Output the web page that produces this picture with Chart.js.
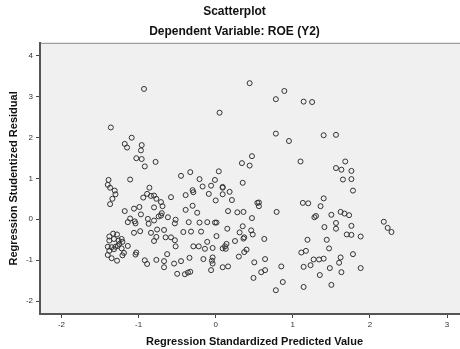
<!DOCTYPE html>
<html>
<head>
<meta charset="utf-8">
<script src="https://cdn.jsdelivr.net/npm/chart.js@4/dist/chart.umd.min.js"></script>
<style>
  html, body { margin: 0; padding: 0; overflow: hidden; background: #fff; }
  #wrap { width: 475px; height: 349px; }
</style>
</head>
<body>
<div id="wrap"><canvas id="chart" width="475" height="349"></canvas></div>
<script>
const chartTitle = 'Scatterplot';
const chartSubtitle = 'Dependent Variable: ROE (Y2)';
const xLabel = 'Regression Standardized Predicted Value';
const yLabel = 'Regression Studentized Residual';

const xTicks = [-2, -1, 0, 1, 2, 3];
const yTicks = [-2, -1, 0, 1, 2, 3, 4];

// Standardized predicted values (x) and studentized residuals (y)
const predicted = [
  -1.36, -1.39, -1.40, -1.37, -1.31, -1.30, -1.34, -1.37, -1.18, -1.18, -1.15, -1.11,
  -1.11, -1.14, -1.38, -1.33, -1.28, -1.38, -1.32, -1.26, -1.40, -1.35, -1.30, -1.27,
  -1.38, -1.32, -1.22, -1.22, -1.40, -1.35, -1.28, -1.14, -1.19, -1.21, -1.21, -1.25,
  -1.09, -0.93, -0.96, -0.97, -1.03, -0.96, -0.92, -0.78, -0.86, -0.89, -0.84, -0.80,
  -0.94, -0.77, -1.06, -0.99, -0.80, -0.97, -1.05, -1.04, -0.88, -0.87, -0.80, -0.74,
  -1.06, -0.98, -0.84, -0.76, -0.77, -0.80, -1.03, -1.04, -0.92, -0.89, -0.77, -0.71,
  -0.69, -0.70, -0.71,
  -0.58, -0.39, -0.30, -0.29, -0.45, -0.33, -0.21, -0.39, -0.30, -0.24, -0.62, -0.52,
  -0.53, -0.35, -0.67, -0.42, -0.32, -0.65, -0.58, -0.53, -0.52, -0.29, -0.22, -0.63,
  -0.67, -0.67, -0.54, -0.45, -0.34, -0.50, -0.40, -0.36, -0.33,
  0.05, 0.04, -0.01, -0.17, -0.06, 0.09, 0.09, 0.18, -0.09, 0.09, 0.21, 0.00,
  0.16, 0.28, -0.21, -0.11, -0.01, 0.01, 0.15, -0.19, 0.01, 0.25, -0.11, -0.14,
  -0.04, 0.09, 0.12, 0.14, 0.13, -0.16, -0.04, -0.05, -0.04, -0.06, 0.09, 0.16,
  0.44, 0.78, 0.89, 0.78, 0.95, 0.47, 0.34, 0.44, 0.35, 0.54, 0.56, 0.56,
  0.36, 0.79, 0.47, 0.35, 0.31, 0.46, 0.48, 0.37, 0.36, 0.63, 0.40, 0.37,
  0.30, 0.50, 0.64, 0.59, 0.64, 0.49, 0.78, 0.87, 0.85,
  1.14, 1.25, 1.10, 1.40, 1.56, 1.68, 1.56, 1.63, 1.76, 1.65, 1.76, 1.78,
  1.40, 1.36, 1.13, 1.20, 1.28, 1.30, 1.50, 1.62, 1.67, 1.73, 1.41, 1.56,
  1.56, 1.76, 1.70, 1.76, 1.88, 1.19, 1.44, 1.47, 1.11, 1.17, 1.78, 1.27,
  1.34, 1.40, 1.62, 1.60, 1.23, 1.14, 1.48, 1.63, 1.88, 1.35, 1.14, 1.50,
  2.18, 2.23, 2.28
];
const residual = [
  2.24, 0.96, 0.84, 0.77, 0.70, 0.61, 0.50, 0.37, 0.20, 1.84, 1.75, 0.97,
  0.02, -0.07, -0.42, -0.35, -0.37, -0.52, -0.48, -0.52, -0.67, -0.68, -0.67, -0.65,
  -0.77, -0.73, -0.48, -0.71, -0.87, -0.95, -1.01, -0.65, -0.82, -0.88, -0.55, -0.60,
  1.99, 3.18, 1.81, 1.68, 1.49, 1.47, 1.29, 1.40, 0.77, 0.62, 0.57, 0.58,
  0.53, 0.50, 0.26, 0.30, 0.29, 0.12, -0.05, -0.10, 0.01, -0.11, -0.03, 0.07,
  -0.33, -0.29, -0.33, -0.25, -0.43, -0.53, -0.81, -0.86, -1.00, -1.09, -0.99, 0.42,
  0.32, 0.15, 0.09,
  0.54, 0.59, 0.71, 0.66, 1.06, 1.15, 0.98, 0.23, 0.33, 0.16, 0.05, -0.01,
  -0.10, -0.07, -0.26, -0.31, -0.30, -0.44, -0.44, -0.51, -0.66, -0.66, -0.66, -0.85,
  -1.02, -1.17, -1.08, -1.02, -0.94, -1.33, -1.34, -1.30, -1.28,
  2.60, 1.17, 0.96, 0.80, 0.82, 0.79, 0.77, 0.67, 0.62, 0.61, 0.47, 0.46,
  0.20, 0.17, -0.08, -0.07, -0.08, -0.08, -0.23, -0.30, -0.41, -0.53, -0.55, -0.72,
  -0.70, -0.71, -0.66, -0.60, -0.72, -0.97, -0.93, -1.01, -1.08, -1.24, -1.17, -1.15,
  3.32, 2.93, 3.13, 2.09, 1.91, 1.54, 1.37, 1.31, 0.89, 0.40, 0.41, 0.32,
  0.18, 0.18, 0.03, -0.17, -0.32, -0.27, -0.37, -0.44, -0.47, -0.48, -0.74, -0.80,
  -0.91, -1.05, -0.97, -1.29, -1.24, -1.43, -1.73, -1.53, -1.15,
  2.87, 2.86, 1.41, 2.05, 2.06, 1.41, 1.25, 1.21, 1.18, 0.97, 0.98, 0.70,
  0.51, 0.32, 0.40, 0.39, 0.05, 0.08, 0.11, 0.18, 0.14, 0.10, -0.19, -0.09,
  -0.23, -0.16, -0.37, -0.38, -0.42, -0.50, -0.50, -0.71, -0.81, -0.77, -0.85, -0.98,
  -0.98, -0.96, -0.93, -1.06, -1.12, -1.16, -1.19, -1.29, -1.19, -1.36, -1.65, -1.60,
  -0.06, -0.21, -0.31
];

const points = predicted.map((x, i) => ({ x: x, y: residual[i] }));

const fontFamily = "Arial, 'Liberation Sans', sans-serif";

// light grey plot background with a thin top border, like SPSS
const plotBackground = {
  id: 'plotBackground',
  beforeDraw(chart) {
    const { ctx, chartArea } = chart;
    ctx.save();
    ctx.fillStyle = '#f0f0f0';
    ctx.fillRect(chartArea.left, chartArea.top, chartArea.right - chartArea.left, chartArea.bottom - chartArea.top);
    ctx.strokeStyle = '#8a8a8a';
    ctx.lineWidth = 1;
    ctx.beginPath();
    ctx.moveTo(chartArea.left, chartArea.top + 0.5);
    ctx.lineTo(chartArea.right, chartArea.top + 0.5);
    ctx.stroke();
    ctx.restore();
  }
};

new Chart(document.getElementById('chart'), {
  type: 'scatter',
  data: {
    datasets: [{
      data: points,
      pointRadius: 2.5,
      pointHoverRadius: 2.5,
      borderWidth: 1,
      borderColor: '#333333',
      backgroundColor: 'rgba(0,0,0,0)'
    }]
  },
  options: {
    responsive: false,
    animation: false,
    layout: { padding: { left: 0, right: 6, top: 0, bottom: 0 } },
    scales: {
      x: {
        type: 'linear',
        min: -2.279,
        max: 3.285,
        afterBuildTicks: axis => { axis.ticks = xTicks.map(v => ({ value: v })); },
        afterFit: axis => { axis.height = 35; },
        grid: { drawOnChartArea: false, drawTicks: true, tickLength: 4, tickColor: '#444' },
        border: { display: true, color: '#555', width: 2 },
        ticks: { font: { family: fontFamily, size: 8 }, color: '#333', padding: 2, maxRotation: 0 },
        title: {
          display: true,
          text: xLabel,
          color: '#111',
          font: { family: fontFamily, size: 11, weight: 'bold' },
          padding: { top: 0, bottom: 0 }
        }
      },
      y: {
        type: 'linear',
        min: -2.31,
        max: 4.305,
        afterBuildTicks: axis => { axis.ticks = yTicks.map(v => ({ value: v })); },
        afterFit: axis => { axis.width = 40; },
        grid: { drawOnChartArea: false, drawTicks: true, tickLength: 4, tickColor: '#444' },
        border: { display: true, color: '#555', width: 2 },
        ticks: { font: { family: fontFamily, size: 8 }, color: '#333', padding: 3 },
        title: {
          display: true,
          text: yLabel,
          color: '#111',
          font: { family: fontFamily, size: 11, weight: 'bold' },
          padding: { top: 7, bottom: 0 }
        }
      }
    },
    plugins: {
      legend: { display: false },
      tooltip: { enabled: false },
      title: {
        display: true,
        text: chartTitle,
        color: '#111',
        font: { family: fontFamily, size: 12, weight: 'bold' },
        padding: { top: 4, bottom: 6 }
      },
      subtitle: {
        display: true,
        text: chartSubtitle,
        color: '#111',
        font: { family: fontFamily, size: 12, weight: 'bold' },
        padding: { top: 0, bottom: 4 }
      }
    }
  },
  plugins: [plotBackground]
});
</script>
</body>
</html>
